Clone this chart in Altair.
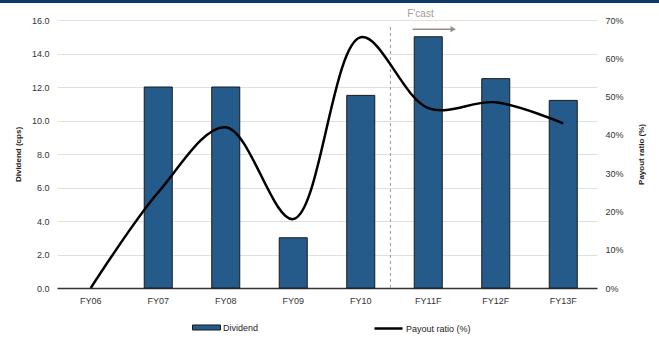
import altair as alt
import pandas as pd

categories = ["FY06", "FY07", "FY08", "FY09", "FY10", "FY11F", "FY12F", "FY13F"]
dividend = [0.0, 12.0, 12.0, 3.0, 11.5, 15.0, 12.5, 11.2]
payout = [0.0, 25.0, 42.0, 18.0, 65.5, 47.0, 48.5, 43.0]
left_ticks = [0, 2, 4, 6, 8, 10, 12, 14, 16]
right_ticks = [0, 10, 20, 30, 40, 50, 60, 70]

FONT = "Liberation Sans"

df = pd.DataFrame({
    "cat": categories,
    "dividend": dividend,
    "payout": payout,
    "s1": ["Dividend"] * len(categories),
    "s2": ["Payout ratio (%)"] * len(categories),
})

xscale = alt.Scale(domain=categories, paddingInner=0, paddingOuter=0)
yscale = alt.Scale(domain=[0, 16], nice=False, zero=True)
xaxis = alt.Axis(title=None, labelAngle=0, ticks=False, domainColor="#333333", domainWidth=1.5,
                 labelPadding=8, labelFontSize=9, labelFont=FONT, labelColor="#333333", grid=False)
yaxis = alt.Axis(title="Dividend (cps)", values=left_ticks, format=".1f", orient="left",
                 ticks=False, domain=False, grid=True, gridColor="#e3e0db", gridWidth=1,
                 labelPadding=8, labelFontSize=9, labelFont=FONT, labelColor="#333333",
                 titleFont=FONT, titleFontSize=8, titleFontWeight="bold", titleColor="#222222",
                 titleAngle=270, titleX=-39, titleY=134, titleBaseline="middle", titleAlign="center")


def xenc(bp=0.5):
    return alt.X("cat:N", scale=xscale, axis=xaxis, bandPosition=bp)


bars = alt.Chart(df).transform_filter("datum.dividend > 0").mark_bar(
    width={"band": 0.415}, stroke="#1a1a1a", strokeWidth=1
).encode(
    x=xenc(),
    y=alt.Y("dividend:Q", scale=yscale, axis=yaxis),
    fill=alt.Fill("s1:N", scale=alt.Scale(range=["#255b8b"]),
                  legend=alt.Legend(title=None, orient="none", legendX=135, legendY=293,
                                    symbolType="M-1,-0.18H1V0.18H-1Z", symbolSize=784,
                                    symbolStrokeColor="#1a1a1a", symbolStrokeWidth=1,
                                    symbolOpacity=1,
                                    labelFont=FONT, labelFontSize=9, labelColor="#222222",
                                    labelOffset=2, padding=0)),
)

fc_rule_df = pd.DataFrame({"cat": ["FY10"], "y0": [0.0], "y1": [15.7]})
fc_rule = alt.Chart(fc_rule_df).mark_rule(strokeDash=[3, 3], color="#a09890", strokeWidth=1).encode(
    x=xenc(0.94),
    y=alt.Y("y0:Q", scale=yscale, axis=yaxis),
    y2="y1:Q",
)

fc_text_df = pd.DataFrame({"cat": ["FY11F"], "y": [16.36], "t": ["F'cast"]})
fc_text = alt.Chart(fc_text_df).mark_text(color="#a59d96", fontSize=10, font=FONT,
                                          baseline="middle", align="center").encode(
    x=xenc(0.385),
    y=alt.Y("y:Q", scale=yscale, axis=yaxis),
    text="t:N",
)

arrow_df = pd.DataFrame({"cat": ["FY11F"], "y": [15.45]})
arrow_line = alt.Chart(arrow_df).mark_rule(color="#9a8f88", strokeWidth=1.5).encode(
    x=xenc(0.267),
    x2=alt.X2("cat:N", bandPosition=0.84),
    y=alt.Y("y:Q", scale=yscale, axis=yaxis),
)
arrow_head = alt.Chart(arrow_df).mark_point(shape="triangle-right", filled=True, size=40,
                                            color="#9a8f88", opacity=1).encode(
    x=xenc(0.87),
    y=alt.Y("y:Q", scale=yscale, axis=yaxis),
)

band_df = pd.DataFrame({"k": [1]})
top_band = alt.Chart(band_df).mark_rule(color="#0e3a68", strokeWidth=3).encode(
    x=alt.value(-57), x2=alt.value(602), y=alt.value(-18.5)
)

inner = alt.layer(bars, fc_rule, fc_text, arrow_line, arrow_head, top_band)

line = alt.Chart(df).mark_line(interpolate="catmull-rom", strokeWidth=2.5).encode(
    x=xenc(),
    y=alt.Y("payout:Q", scale=alt.Scale(domain=[0, 70], nice=False, zero=True),
            axis=alt.Axis(title="Payout ratio (%)", values=right_ticks, orient="right",
                          labelExpr="datum.value + '%'", ticks=False, domain=False, grid=False,
                          labelPadding=8, labelFontSize=9, labelFont=FONT, labelColor="#333333",
                          titleFont=FONT, titleFontSize=8, titleFontWeight="bold",
                          titleColor="#222222", titleAngle=270, titleX=44, titleY=134,
                          titleBaseline="middle", titleAlign="center")),
    stroke=alt.Stroke("s2:N", scale=alt.Scale(range=["#000000"]),
                      legend=alt.Legend(title=None, orient="none", legendX=316, legendY=293,
                                        symbolType="stroke", symbolSize=784,
                                        symbolStrokeWidth=2.5,
                                        labelFont=FONT, labelFontSize=9, labelColor="#222222",
                                        labelOffset=2, padding=0)),
)

chart = alt.layer(inner, line).resolve_scale(y="independent").properties(
    width=540, height=268,
    autosize=alt.AutoSizeParams(type="none"),
    padding={"left": 57, "top": 20, "right": 62, "bottom": 51},
    background="white",
).configure_view(stroke=None)

chart.save("out.html", embed_options={"renderer": "svg", "actions": False})
